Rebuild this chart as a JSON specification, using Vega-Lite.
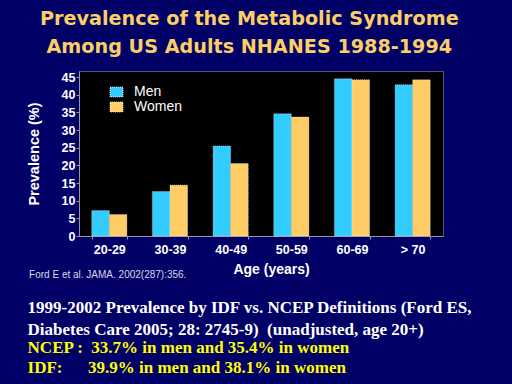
{
  "$schema": "https://vega.github.io/schema/vega-lite/v6.json",
  "background": "#000066",
  "padding": {"left": 25, "top": 10, "right": 60, "bottom": 20},
  "title": {
    "text": ["Prevalence of the Metabolic Syndrome", "Among US Adults NHANES 1988-1994"],
    "orient": "top",
    "anchor": "middle",
    "font": "DejaVu Sans",
    "fontSize": 19.2,
    "fontWeight": "bold",
    "color": "#FCCE66",
    "lineHeight": 28,
    "offset": 13
  },
  "vconcat": [
    {
      "title": {
        "text": ["1999-2002 Prevalence by IDF vs. NCEP Definitions (Ford ES,", "Diabetes Care 2005; 28: 2745-9)\u00A0\u00A0(unadjusted, age 20+)"],
        "subtitle": ["NCEP :\u00A0\u00A033.7% in men and 35.4% in women", "IDF:\u00A0\u00A0\u00A0\u00A0\u00A0\u00A039.9% in men and 38.1% in women"],
        "orient": "bottom",
        "anchor": "start",
        "dx": 2,
        "font": "Liberation Serif",
        "fontSize": 17,
        "fontWeight": "bold",
        "color": "#FFFFFF",
        "lineHeight": 22,
        "subtitleFont": "Liberation Serif",
        "subtitleFontSize": 17,
        "subtitleFontWeight": "bold",
        "subtitleColor": "#FFFF00",
        "subtitleLineHeight": 20,
        "subtitlePadding": 1,
        "offset": 20
      },
      "vconcat": [
        {
          "width": 364,
          "height": 165,
          "title": {
            "text": "Ford E et al. JAMA. 2002(287):356.",
            "orient": "bottom",
            "anchor": "start",
            "font": "Liberation Sans",
            "fontSize": 10,
            "fontWeight": "normal",
            "color": "#D8D8E8",
            "dx": 3,
            "offset": -7
          },
          "data": {
            "values": [
              {"age": "20-29", "sex": "Men", "value": 7.2},
              {"age": "20-29", "sex": "Women", "value": 6.1},
              {"age": "30-39", "sex": "Men", "value": 12.6},
              {"age": "30-39", "sex": "Women", "value": 14.4},
              {"age": "40-49", "sex": "Men", "value": 25.5},
              {"age": "40-49", "sex": "Women", "value": 20.5},
              {"age": "50-59", "sex": "Men", "value": 34.6},
              {"age": "50-59", "sex": "Women", "value": 33.7},
              {"age": "60-69", "sex": "Men", "value": 44.5},
              {"age": "60-69", "sex": "Women", "value": 44.2},
              {"age": "> 70", "sex": "Men", "value": 42.8},
              {"age": "> 70", "sex": "Women", "value": 44.2}
            ]
          },
          "mark": {"type": "bar", "stroke": "#FFFFFF", "strokeWidth": 0.7, "strokeDash": [1, 1], "strokeOpacity": 0.7},
          "encoding": {
            "x": {
              "field": "age",
              "type": "nominal",
              "sort": null,
              "scale": {"paddingInner": 0.42, "paddingOuter": 0.21},
              "axis": {
                "title": "Age (years)",
                "labelAngle": 0,
                "labelFont": "Liberation Sans",
                "labelFontSize": 12.5,
                "labelFontWeight": "bold",
                "labelColor": "#FFFFFF",
                "labelPadding": 4,
                "tickBand": "extent",
                "tickSize": 3,
                "tickColor": "#999999",
                "domainColor": "#999999",
                "titleFont": "Liberation Sans",
                "titleFontSize": 14,
                "titleFontWeight": "bold",
                "titleColor": "#FFFFFF",
                "titlePadding": 7,
                "titleX": 192
              }
            },
            "xOffset": {"field": "sex", "type": "nominal", "scale": {"paddingInner": 0, "paddingOuter": 0}},
            "y": {
              "field": "value",
              "type": "quantitative",
              "scale": {"domain": [0, 46.7], "nice": false},
              "axis": {
                "title": "Prevalence (%)",
                "values": [0, 5, 10, 15, 20, 25, 30, 35, 40, 45],
                "grid": false,
                "labelFont": "Liberation Sans",
                "labelFontSize": 12.5,
                "labelFontWeight": "bold",
                "labelColor": "#FFFFFF",
                "labelPadding": 1,
                "tickSize": 3,
                "tickColor": "#999999",
                "domainColor": "#999999",
                "titleFont": "Liberation Sans",
                "titleFontSize": 14.5,
                "titleFontWeight": "bold",
                "titleColor": "#FFFFFF",
                "titlePadding": 20
              }
            },
            "color": {
              "field": "sex",
              "type": "nominal",
              "scale": {"domain": ["Men", "Women"], "range": ["#33CCFF", "#FFCC66"]},
              "legend": {
                "title": null,
                "orient": "none",
                "legendX": 30.5,
                "legendY": 14,
                "symbolType": "M-1.3,-1H1.3V1H-1.3Z",
                "symbolSize": 100,
                "symbolStrokeColor": "#FFFFFF",
                "symbolStrokeWidth": 0.7,
                "symbolDash": [1, 1],
                "labelFont": "Liberation Sans",
                "labelFontSize": 14,
                "labelColor": "#FFFFFF",
                "labelOffset": 10.5,
                "labelExpr": "datum.label == 'Women' ? '\u00A0Women' : datum.label",
                "rowPadding": 1
              }
            }
          }
        }
      ]
    }
  ],
  "config": {
    "view": {"fill": "#000000", "stroke": "#AAAAAA", "strokeDash": [1, 1]},
    "concat": {"spacing": 0}
  }
}
